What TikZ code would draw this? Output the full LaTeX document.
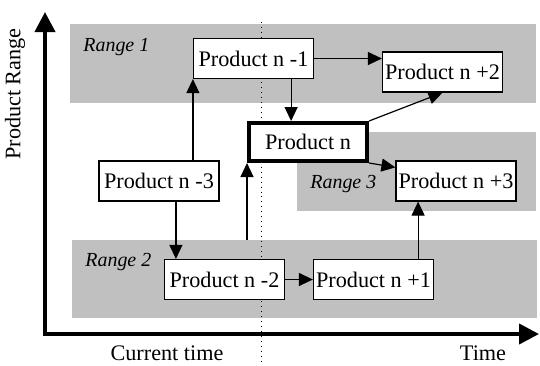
\documentclass[tikz,border=0pt]{standalone}
\usepackage{fontspec}
\setmainfont{Liberation Serif}
\usetikzlibrary{arrows.meta}

\definecolor{bandgray}{RGB}{192,192,192}

\tikzset{
    product/.style = {draw, fill = white, line width = 0.6bp, minimum width = 60bp, minimum height = 20bp, inner sep = 0pt},
    current/.style = {product, line width = 2bp, minimum width = 59bp, minimum height = 19bp},
    band/.style = {fill = bandgray, inner sep = 0pt},
    rangelabel/.style = {font = \itshape, anchor = west, inner sep = 0pt},
    flow/.style = {line width = 0.6bp, -{Triangle[length = 7bp, width = 6.5bp]}},
    axis/.style = {line width = 2bp, {Triangle[length = 10bp, width = 10bp]}-{Triangle[length = 10bp, width = 10bp]}}
}

\begin{document}
\begin{tikzpicture}[x = 0.5bp, y = -0.5bp, font = \fontsize{11.1bp}{13bp}\selectfont]
        \useasboundingbox (0, 0) rectangle (540, 365);

        % ranges
        \node [band, minimum width = 233bp, minimum height = 39.5bp] (range1) at (303, 63.5) {};
        \node [band, minimum width = 119.5bp, minimum height = 39.5bp] (range3) at (416.5, 171.5) {};
        \node [band, minimum width = 232.5bp, minimum height = 39bp] (range2) at (304.5, 279) {};

        \node [rangelabel] (label1) at (83, 47) {Range 1};
        \node [rangelabel] (label2) at (85, 262) {Range 2};
        \node [rangelabel] (label3) at (310, 184) {Range 3};

        \draw [dotted, line width = 0.5bp] (261, 22) -- (261, 365);

        % axes
        \draw [axis] (45, 12) |- (539, 334);
        \node [rotate = 90] (yaxis) at (15, 94) {Product Range};
        \node (now) at (167, 353) {Current time};
        \node (time) at (483, 353) {Time};

        % products
        \node [product] (nm1) at (253.5, 58.5) {Product n -1};
        \node [product] (np2) at (442.5, 72) {Product n +2};
        \node [current] (pn) at (308, 142) {Product n};
        \node [product] (nm3) at (159, 181) {Product n -3};
        \node [product] (np3) at (456, 181) {Product n +3};
        \node [product] (nm2) at (224.5, 279.5) {Product n -2};
        \node [product] (np1) at (373.5, 279.5) {Product n +1};

        % transitions
        \draw [flow] (nm1.east) -- (nm1.east -| np2.west);
        \draw [flow] ([xshift = -11.5bp]nm1.south east) -- ([xshift = -11.5bp]nm1.south east |- pn.north);
        \draw [flow] (pn.north east) -- (np2.south);
        \draw [flow] (pn.south east) -- ([yshift = -3.5bp]np3.north west);
        \draw [flow] (nm1.south west |- nm3.north) -- (nm1.south west);
        \draw [flow] ([xshift = 6bp]nm2.north west |- nm3.south) -- ([xshift = 6bp]nm2.north west);
        \draw [flow] (pn.south west |- range2.north) -- (pn.south west);
        \draw [flow] (nm2.east) -- (np1.west);
        \draw [flow] ([xshift = -8bp]np1.north east) -- ([xshift = -8bp]np1.north east |- np3.south);
    \end{tikzpicture}
\end{document}
